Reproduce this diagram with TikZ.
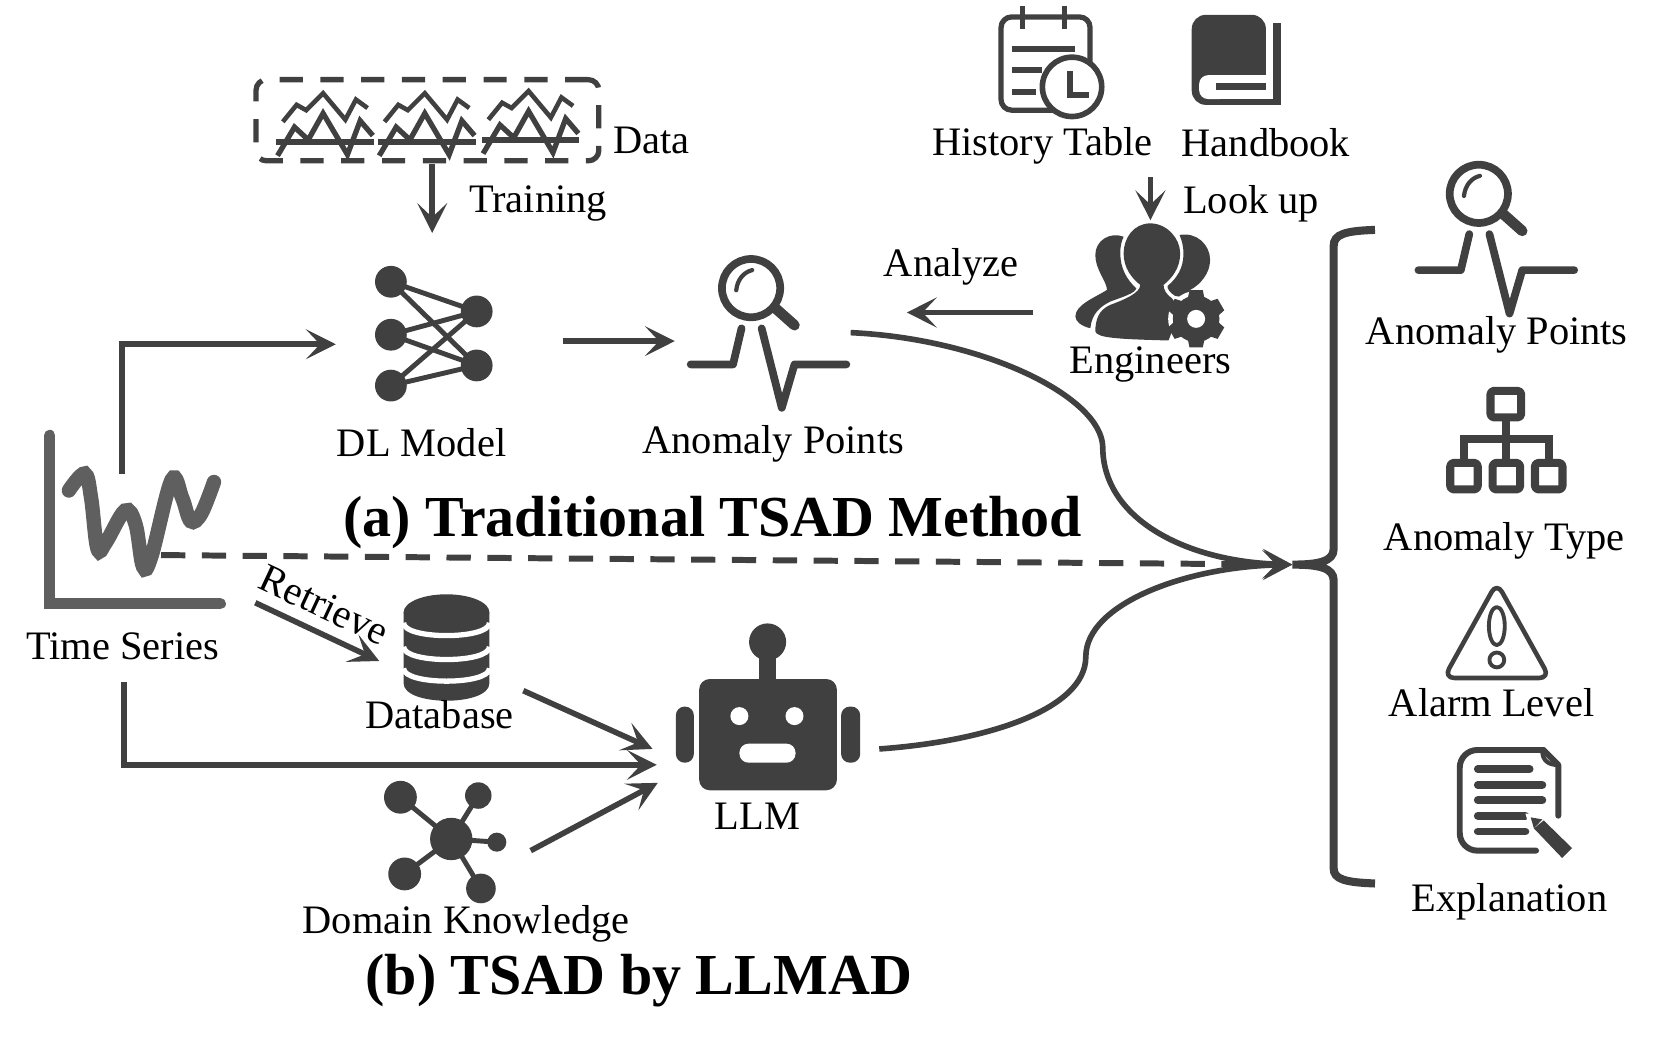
\documentclass[tikz,border=0pt]{standalone}
\usepackage{fontspec}
\setmainfont{Liberation Serif}
\usetikzlibrary{arrows.meta}

\definecolor{icondark}{HTML}{404040}
\definecolor{seriesgray}{HTML}{5F5F5F}

\tikzset{
  lbl/.style={font=\fontsize{11.5}{14}\selectfont, inner sep=0pt},
  titlelbl/.style={font=\fontsize{16.5}{20}\selectfont\bfseries, inner sep=0pt},
  flow/.style={draw=icondark, line width=1.6pt, -{Stealth[length=8.5pt,width=8.5pt,inset=4pt]}},
  dashflow/.style={draw=icondark, line width=1.7pt, dash pattern=on 6.9pt off 4.7pt},
  icon/.style={draw=icondark, line cap=round, line join=round},
  databox/.style={draw=icondark, line width=1.5pt, rounded corners=3pt, dash pattern=on 6.6pt off 5pt,
    minimum width=97.5pt, minimum height=23.1pt, inner sep=0pt},
  wavemark/.pic={
    \draw[draw=icondark, line width=1.3pt] (5,-19)--(18,-35)--(27,-30)--(43,-46)--(64,-21)--(74,-40)--(85,-32);
    \draw[draw=icondark, line width=1.5pt] (0,13)--(16,-14)--(29,-2)--(43,-27)--(66,12)--(78,-20)--(90,-6);
    \draw[draw=icondark, line width=1.8pt] (-1,0)--(91,0);
  },
  anomalymark/.pic={
    \draw[icon, line width=2.2pt] (9,-38) circle (27.5);
    \draw[icon, line width=3pt] (32,-19)--(50,-3);
    \draw[icon, line width=1.2pt] (-5,-36) .. controls (-4,-46) and (2,-53) .. (10,-55);
    \draw[icon, line width=2.2pt] (-48,34)--(-8,34)--(0,0);
    \draw[icon, line width=2.2pt] (19,0)--(38,75)--(50,34)--(99,34);
  },
}

\begin{document}
\begin{tikzpicture}[x=0.01059cm, y=-0.01059cm]
\useasboundingbox (0,0) rectangle (1568,988.4);
% connector ends
\coordinate (dataout) at (408,155);
\coordinate (modeltop) at (408,220);
\coordinate (seriesup) at (115,447);
\coordinate (seriesbend) at (115,325);
\coordinate (modelin) at (317,325);
\coordinate (modelout) at (531,322);
\coordinate (pointsin) at (637,322);
\coordinate (pointsout) at (803,314);
\coordinate (engout) at (975,295);
\coordinate (analyzeend) at (856,295);
\coordinate (tableout) at (1086,167);
\coordinate (engtop) at (1086,208);
\coordinate (merge) at (1220,533);
\coordinate (seriesdash) at (152,524);
\coordinate (seriesret) at (241,569);
\coordinate (dbin) at (358,624);
\coordinate (dbout) at (494,652);
\coordinate (llmtop) at (616,707);
\coordinate (seriesdown) at (117,644);
\coordinate (downbend) at (117,722);
\coordinate (llmmid) at (620,722);
\coordinate (knowout) at (501,803);
\coordinate (llmlow) at (621,739);
\coordinate (llmout) at (830,707);
%
% data box
\node[databox] (data) at (403.5,113.5) {};
\path (262,134) pic {wavemark};
\path (358,134) pic {wavemark};
\path (456,132) pic {wavemark};
%
% neural net
\foreach \ya in {266,316,364}
  \foreach \yb in {294,345}
    \draw[icon, line width=1.4pt] (369,\ya)--(450,\yb);
\foreach \ya in {266,316,364}
  \fill[icondark] (369,\ya) circle (15);
\foreach \yb in {294,345}
  \fill[icondark] (450,\yb) circle (15);
%
\path (700,310) pic {anomalymark};
\path (1387,221) pic {anomalymark};
%
% calendar
\draw[icon, line width=1.5pt, rounded corners=3pt] (1029,60)--(1029,16)--(945,16)--(945,104)--(1000,104);
\draw[icon, line width=1.5pt, line cap=butt] (965,6)--(965,27);
\draw[icon, line width=1.5pt, line cap=butt] (1005,6)--(1005,27);
\draw[icon, line width=1.8pt, line cap=butt] (955,46)--(1015,46);
\draw[icon, line width=1.8pt, line cap=butt] (955,66)--(984,66);
\draw[icon, line width=1.8pt, line cap=butt] (955,87)--(978,87);
\filldraw[icon, fill=white, line width=1.6pt] (1012,82) circle (28);
\draw[draw=icondark, line width=1.8pt] (1010,67)--(1010,90)--(1028,90);
%
% book
\fill[icondark, rounded corners=4pt] (1125,14)--(1195,14)--(1195,99)--(1125,99)--cycle;
\fill[icondark] (1160,93.5) rectangle (1209,99);
\fill[icondark] (1202,22) rectangle (1209,99);
\fill[white, rounded corners=2.5pt] (1132,93.5)--(1132,71)--(1160,71)--(1160,93.5)--cycle;
\fill[white] (1145,71) rectangle (1201.5,93.5);
\fill[icondark] (1148,78.5) rectangle (1195,85);
%
% engineers
\begin{scope}[shift={(1001,198.3)}, x=0.003334cm, y=-0.003334cm]
\fill[icondark] (270,40) .. controls (220,40) and (190,85) .. (190,130) .. controls (190,175) and (215,205) .. (240,225)
  .. controls (240,250) and (190,270) .. (150,285) .. controls (115,300) and (105,330) .. (105,365)
  .. controls (110,385) and (180,388) .. (325,392) -- (360,300) -- (335,265)
  .. controls (320,255) and (310,240) .. (310,225) .. controls (335,205) and (360,175) .. (360,130)
  .. controls (360,85) and (320,40) .. (270,40) -- cycle;
\fill[icondark] (190,80) .. controls (150,65) and (105,90) .. (105,135) .. controls (105,180) and (140,215) .. (140,240)
  .. controls (100,265) and (45,285) .. (45,320) .. controls (45,335) and (65,350) .. (90,355)
  .. controls (95,310) and (120,290) .. (150,275) .. controls (190,260) and (225,250) .. (228,235)
  .. controls (200,210) and (180,175) .. (180,130) .. controls (180,110) and (183,95) .. (190,80) -- cycle;
\fill[icondark] (358,75) .. controls (410,65) and (450,105) .. (450,150) .. controls (450,190) and (420,225) .. (390,240)
  .. controls (385,255) and (360,265) .. (345,258) .. controls (330,250) and (320,235) .. (322,228)
  .. controls (350,205) and (370,175) .. (370,130) .. controls (370,110) and (365,90) .. (358,75) -- cycle;
\fill[white] (408,327) circle (84);
\fill[icondark] (408,327) circle (70);
\foreach \a in {0,60,120,180,240,300}
  \fill[icondark, rotate around={\a:(408,327)}] (388,241)--(428,241)--(438,290)--(378,290)--cycle;
\fill[white] (408,327) circle (27);
\end{scope}
%
% org chart
\draw[icon, line width=2.3pt, rounded corners=1pt] (1407,369) rectangle (1436,394);
\draw[icon, line width=2.3pt, rounded corners=1pt] (1369,437) rectangle (1395,462);
\draw[icon, line width=2.3pt, rounded corners=1pt] (1409,437) rectangle (1435,462);
\draw[icon, line width=2.3pt, rounded corners=1pt] (1449,437) rectangle (1475,462);
\draw[draw=icondark, line width=2.3pt] (1421.5,394)--(1421.5,437);
\draw[draw=icondark, line width=2.3pt] (1382,437)--(1382,414)--(1462,414)--(1462,437);
%
% warning sign
\draw[icon, line width=1.3pt, rounded corners=3pt] (1413,550)--(1463,640)--(1363,640)--cycle;
\draw[icon, line width=1.1pt] (1413,591) ellipse (7.5 and 18);
\draw[icon, line width=1.1pt] (1413,623) circle (7);
%
% note with pencil
\draw[icon, line width=1.7pt, rounded corners=5pt] (1457,708)--(1378,708)--(1378,803)--(1450,803);
\draw[icon, line width=1.7pt] (1457,708)--(1471,722)--(1471,770);
\draw[icon, line width=1.2pt] (1456,709) .. controls (1456,718) and (1462,722) .. (1470,722);
\foreach \yy/\xx in {726/1444,741/1456,755.5/1456,770/1440,785/1440}
  \draw[icon, line width=2.2pt] (1395,\yy)--(\xx,\yy);
\fill[white] (1440,768)--(1462,770)--(1490,800)--(1475,815)--(1445,785)--cycle;
\fill[icondark] (1445,771.6)--(1456,773.5)--(1448,782)--cycle;
\fill[icondark] (1457.3,774.5)--(1448,782)--(1474.7,810)--(1484,800.6)--cycle;
%
% database
\fill[icondark] (381,578)--(381,645) .. controls (381,667) and (462,667) .. (462,645)--(462,578)--cycle;
\fill[icondark] (421.5,578) ellipse (40.5 and 17);
\foreach \yy in {588,610.6,631}
  \draw[draw=white, line width=1.5pt] (381,\yy) .. controls (381,\yy+16) and (462,\yy+16) .. (462,\yy);
%
% robot
\fill[icondark, rounded corners=3pt] (660,641) rectangle (790,746);
\fill[icondark, rounded corners=2.5pt] (638,667) rectangle (655,720);
\fill[icondark, rounded corners=2.5pt] (794,667) rectangle (812,720);
\fill[icondark] (716.5,615) rectangle (733,645);
\fill[icondark] (724.6,606) circle (17.5);
\fill[white] (698,676) circle (8.5);
\fill[white] (750,676) circle (8.5);
\fill[white, rounded corners=2.6pt] (698,702) rectangle (751,720);
%
% knowledge graph
\foreach \px/\py in {378/752.6,451.5/751,469/795,382/825,454/838.7}
  \draw[icon, line width=1.4pt] (426,792)--(\px,\py);
\fill[icondark] (426,792) circle (20);
\fill[icondark] (378,752.6) circle (15.5);
\fill[icondark] (451.5,751) circle (12.5);
\fill[icondark] (469,795) circle (9);
\fill[icondark] (382,825) circle (15.5);
\fill[icondark] (454,838.7) circle (14);
%
% time series
\draw[draw=seriesgray, line width=3.2pt, line cap=round, line join=miter] (47,411)--(47,570)--(208,570);
\draw[draw=seriesgray, line width=4.1pt, line cap=round] plot[smooth, tension=0.6] coordinates
  {(65,463) (80,447) (86,470) (92,518) (100,512) (118,482) (128,495) (135,535) (143,525) (162,453) (172,470) (180,492) (190,485) (202,455)};
%
% bracket
\draw[draw=icondark, line width=2.3pt, line cap=butt] (1298,217) .. controls (1270,218) and (1259,221) .. (1259,232)
  -- (1259,518) .. controls (1259,530) and (1245,533) .. (merge)
  .. controls (1245,533) and (1259,536) .. (1259,548) -- (1259,820) .. controls (1259,830) and (1270,833) .. (1298,834);
%
% connectors
\draw[flow] (dataout) -- (modeltop);
\draw[flow] (seriesup) -- (seriesbend) -- (modelin);
\draw[flow] (modelout) -- (pointsin);
\draw[flow] (engout) -- (analyzeend);
\draw[flow] (tableout) -- (engtop);
\draw[flow] (seriesret) -- (dbin);
\draw[flow] (dbout) -- (llmtop);
\draw[flow] (seriesdown) -- (downbend) -- (llmmid);
\draw[flow] (knowout) -- (llmlow);
\draw[dashflow] (seriesdash) -- (merge);
\draw[flow] (pointsout) .. controls (930,320) and (1040,375) .. (1041,422)
  .. controls (1041,490) and (1120,530) .. (merge);
\draw[flow] (llmout) .. controls (930,700) and (1025,670) .. (1025,620)
  .. controls (1025,570) and (1120,535) .. (merge);
%
% labels
\node[lbl] (datalbl) at (615,133) {Data};
\node[lbl] (trainlbl) at (508,192) {Training};
\node[lbl] (modellbl) at (398,418) {DL Model};
\node[lbl] (pointslbl) at (730,419) {Anomaly Points};
\node[lbl] (analyzelbl) at (898,252) {Analyze};
\node[lbl] (tablelbl) at (984,138) {History Table};
\node[lbl] (booklbl) at (1195,135) {Handbook};
\node[lbl] (lookuplbl) at (1181,192) {Look up};
\node[lbl] (englbl) at (1086,344) {Engineers};
\node[lbl] (outpoints) at (1413,316) {Anomaly Points};
\node[lbl] (outtype) at (1420,511) {Anomaly Type};
\node[lbl] (outlevel) at (1408,663) {Alarm Level};
\node[lbl] (outexpl) at (1425,851) {Explanation};
\node[lbl] (serieslbl) at (116,610) {Time Series};
\node[lbl, rotate=-25] (retrievelbl) at (306,571) {Retrieve};
\node[lbl] (dblbl) at (415,675) {Database};
\node[lbl] (llmlbl) at (715,771) {LLM};
\node[lbl] (knowlbl) at (440,872) {Domain Knowledge};
\node[titlelbl] (titlea) at (673,493) {(a) Traditional TSAD Method};
\node[titlelbl] (titleb) at (603,926) {(b) TSAD by LLMAD};
\end{tikzpicture}
\end{document}
